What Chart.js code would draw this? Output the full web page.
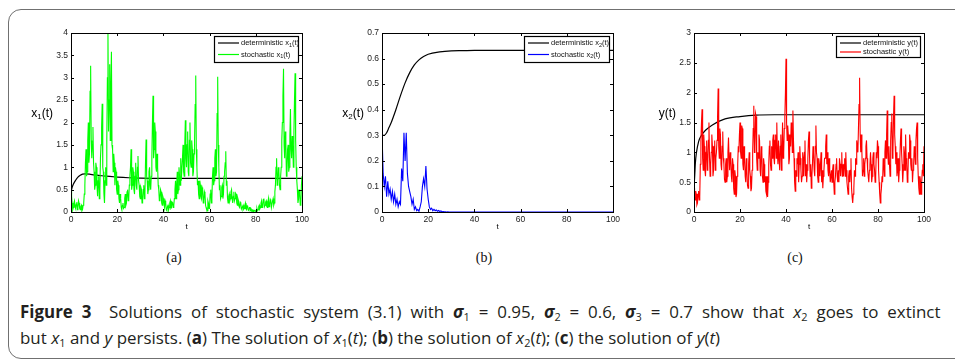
<!DOCTYPE html>
<html><head><meta charset="utf-8">
<script src="https://cdn.jsdelivr.net/npm/chart.js@4.4.0/dist/chart.umd.min.js"></script>
<style>
body{margin:0;width:955px;height:361px;overflow:hidden;background:#fff;position:relative;font-family:"Liberation Sans",Arial,sans-serif}
#frame{position:absolute;left:8px;top:9px;width:990px;height:350px;border:1.5px solid #707070;border-radius:13px;box-sizing:border-box}
.cv{position:absolute;top:20px}
.sub{position:absolute;top:249px;font-family:"Liberation Serif","DejaVu Serif",serif;font-size:14px;line-height:18px;color:#111;transform:translateX(-50%)}
.cap{position:absolute;left:20px;white-space:nowrap;font-family:"Liberation Sans Narrow","Open Sans",sans-serif;font-size:17px;line-height:20px;color:#231f20;transform-origin:0 0}
.cap sub{font-size:11px;vertical-align:-3px;line-height:0}
</style></head><body>
<div id="frame"></div>
<canvas id="ca" class="cv" width="311" height="220" style="left:11px"></canvas>
<canvas id="cb" class="cv" width="311" height="220" style="left:322px"></canvas>
<canvas id="cc" class="cv" width="310" height="220" style="left:634px"></canvas>
<div class="sub" style="left:174px">(a)</div>
<div class="sub" style="left:484px">(b)</div>
<div class="sub" style="left:795px">(c)</div>
<div class="cap" id="cap1" style="top:302px"><b>Figure 3</b>&nbsp; Solutions of stochastic system (3.1) with <b><i>σ</i></b><sub>1</sub> = 0.95, <b><i>σ</i></b><sub>2</sub> = 0.6, <b><i>σ</i></b><sub>3</sub> = 0.7 show that <i>x</i><sub>2</sub> goes to extinct</div>
<div class="cap" id="cap2" style="top:328px">but <i>x</i><sub>1</sub> and <i>y</i> persists. (<b>a</b>) The solution of <i>x</i><sub>1</sub>(<i>t</i>); (<b>b</b>) the solution of <i>x</i><sub>2</sub>(<i>t</i>); (<b>c</b>) the solution of <i>y</i>(<i>t</i>)</div>
<script>
// ---- data ----
const stepX1 = 0.25, stepX2 = 0.5, stepY = 0.25; // sampling steps of the stochastic paths
const x1Stoch = [
0.5,0.35,0.2,0.05,0.1,0.2,0.25,0.12,0.08,0.18, 0.22,0.05,0.1,0.25,0.2,0.08,0.05,0.12,0.15,0.03,
0.06,0.15,0.2,0.4,0.6,1.1,1.4,0.8,0.9,1.6, 2.0,1.1,1.3,2.7,3.27,1.6,1.2,1.5,1.9,1.1,
0.9,0.5,0.6,1.1,1.0,0.6,0.35,0.7,0.8,0.3, 0.5,1.2,1.5,1.9,2.42,1.0,0.9,0.4,0.2,0.7,
1.0,0.6,1.6,3.0,4.0,1.8,2.5,3.3,1.6,2.8, 3.58,1.5,1.4,0.9,1.3,1.1,0.6,1.0,0.9,0.5,
0.4,0.7,0.6,0.3,0.2,0.4,0.3,0.1,0.05,0.15, 0.2,0.08,0.1,0.3,0.4,0.15,0.2,0.45,0.5,0.25,
0.3,0.6,0.8,1.0,1.4,0.5,0.6,1.0,0.9,0.5, 0.4,0.8,1.1,0.6,0.5,1.0,1.25,0.7,0.6,0.35,
0.3,0.55,0.5,0.2,0.25,0.5,0.6,0.3,0.4,1.1, 1.62,0.8,0.7,0.4,0.5,0.9,1.0,0.6,0.5,0.8,
1.2,2.0,2.6,1.2,1.4,2.0,1.8,1.0,0.9,1.3, 1.0,0.6,0.5,0.25,0.3,0.5,0.45,0.2,0.15,0.35,
0.3,0.2,0.1,0.25,0.2,0.05,0.03,0.12,0.15,0.05, 0.1,0.2,0.25,0.08,0.1,0.22,0.2,0.1,0.15,0.3,
0.5,0.7,0.3,0.6,0.9,0.4,0.5,1.0,0.8,0.6, 1.2,0.7,0.7,1.2,1.5,0.9,0.8,1.5,2.05,1.2,
1.0,1.5,1.8,0.9,0.8,1.6,2.0,1.1,1.0,1.6, 1.4,0.8,0.9,1.3,1.6,2.4,3.05,1.4,1.0,0.6,
0.7,0.4,0.3,0.7,0.6,0.35,0.3,0.55,0.5,0.2, 0.25,0.45,0.4,0.15,0.1,0.05,0.03,0.25,0.2,0.08,
0.15,0.4,0.5,0.2,0.3,0.8,1.0,0.6,0.7,1.2, 1.4,0.8,0.9,2.2,3.02,1.5,1.0,0.5,0.6,0.3,
0.35,0.55,0.6,0.3,0.4,0.8,0.9,1.1,1.36,0.6, 0.7,0.3,0.2,0.35,0.4,0.25,0.3,0.45,0.5,0.3,
0.2,0.35,0.45,0.25,0.3,0.42,0.4,0.2,0.15,0.3, 0.25,0.12,0.1,0.22,0.2,0.08,0.05,0.12,0.15,0.06,
0.08,0.15,0.2,0.07,0.05,0.14,0.12,0.04,0.03,0.1, 0.1,0.03,0.02,0.06,0.05,0.01,0.0,0.04,0.03,0.01,
0.01,0.05,0.08,0.03,0.05,0.12,0.15,0.07,0.1,0.2, 0.25,0.1,0.12,0.28,0.3,0.12,0.15,0.22,0.25,0.12,
0.1,0.22,0.3,0.12,0.15,0.28,0.25,0.1,0.1,0.25, 0.3,0.15,0.2,0.45,0.6,1.0,1.2,0.6,0.7,1.0,
0.9,0.6,0.5,0.8,1.0,1.6,2.0,2.6,3.2,1.5, 1.2,1.8,1.6,0.8,0.9,1.4,1.5,0.9,1.0,1.7,
2.3,1.4,1.2,1.7,1.5,1.0,1.8,2.5,3.1,1.6, 1.0,0.7,0.5,0.2,0.3,0.5,0.4,0.15,0.2,0.6,
0.8];
const x2Stoch = [
0.31,0.15,0.1,0.14,0.06,0.12,0.07,0.09,0.05,0.08,
0.04,0.07,0.03,0.05,0.02,0.04,0.03,0.17,0.12,0.31,
0.2,0.31,0.15,0.1,0.08,0.06,0.03,0.05,0.01,0.02,
0.005,0.01,0.003,0.02,0.04,0.1,0.13,0.1,0.18,0.09,
0.05,0.02,0.01,0.015,0.005,0.01,0.005,0.008,0.003,0.006,
0.002,0.004,0.001,0.002,0.001,0.001,0,0.001,0,0,
0,0,0,0,0,0,0,0,0,0, 0,0,0,0,0,0,0,0,0,0,
0,0,0,0,0,0,0,0,0,0, 0,0,0,0,0,0,0,0,0,0,
0,0,0,0,0,0,0,0,0,0, 0,0,0,0,0,0,0,0,0,0,
0,0,0,0,0,0,0,0,0,0, 0,0,0,0,0,0,0,0,0,0,
0,0,0,0,0,0,0,0,0,0, 0,0,0,0,0,0,0,0,0,0,
0,0,0,0,0,0,0,0,0,0, 0,0,0,0,0,0,0,0,0,0,
0,0,0,0,0,0,0,0,0,0, 0,0,0,0,0,0,0,0,0,0,
0];
const yStoch = [
0.4,0.25,0.2,0.35,0.3,0.12,0.15,0.3,0.35,0.2, 0.25,0.8,1.2,1.5,1.72,0.9,0.7,1.3,1.1,0.7,
0.6,1.0,1.2,0.7,0.8,1.2,1.5,0.9,0.6,0.8, 1.0,1.3,1.1,0.6,0.7,1.1,1.2,0.7,0.9,1.0,
1.2,1.6,2.07,1.1,0.9,1.4,1.3,0.8,0.7,1.1, 1.35,0.9,0.8,0.55,0.5,0.8,0.9,0.5,0.6,1.0,
1.25,0.9,0.7,1.0,0.9,0.6,0.5,0.9,0.8,0.4, 0.3,0.7,0.6,0.25,0.3,0.6,0.8,1.1,1.0,1.3,
1.5,1.0,0.9,1.45,1.4,0.8,0.7,1.1,0.9,0.6, 0.5,0.9,0.7,0.45,0.4,0.8,1.0,0.7,0.6,0.35,
0.4,0.7,1.0,1.4,1.78,1.0,1.1,1.65,1.6,0.9, 0.7,1.0,0.9,1.3,1.2,0.7,0.6,1.1,1.0,0.6,
0.5,0.9,0.8,0.5,0.6,0.35,0.3,0.6,0.25,0.5, 0.8,1.1,1.2,0.8,0.7,1.1,0.9,1.2,1.3,0.9,
0.8,1.2,1.3,0.9,1.5,1.0,0.8,1.2,0.9,0.7, 1.1,1.3,0.7,1.0,1.5,0.9,1.0,1.4,1.6,2.0,
2.57,1.5,1.2,1.45,1.3,0.8,0.9,1.3,1.1,1.5, 1.4,1.0,1.7,1.2,0.9,0.5,0.35,0.7,0.6,0.9,
0.8,1.0,0.5,0.8,1.1,0.9,0.7,0.5,0.6,1.0, 0.9,0.6,1.0,1.2,0.6,0.8,0.5,0.7,0.9,1.2,
1.35,0.9,0.6,0.8,0.4,0.6,0.8,1.1,1.0,0.7, 0.6,1.1,1.45,1.0,0.9,0.6,0.5,0.9,0.8,0.6,
0.8,1.0,0.5,0.7,0.4,0.6,0.7,0.9,0.9,1.1, 1.3,0.8,1.0,0.7,0.6,0.9,0.7,0.5,0.5,0.7,
0.5,0.7,0.8,0.5,0.3,0.5,0.6,0.8,0.9,0.6, 0.5,0.7,0.5,0.9,0.8,0.6,0.8,1.0,0.6,0.8,
0.6,0.8,0.9,0.6,1.0,0.7,0.5,0.4,0.3,0.6, 0.7,0.5,0.7,0.9,0.4,0.25,0.15,0.3,0.4,0.7,
0.6,0.9,0.8,1.2,1.1,1.0,1.4,1.8,2.25,1.3, 1.0,1.3,1.0,0.6,0.7,0.9,0.6,0.8,0.9,1.1,
1.2,0.9,0.7,0.6,0.5,0.7,0.8,1.0,0.8,0.5, 0.6,0.9,1.0,0.8,0.7,0.5,0.6,1.0,0.9,1.2,
1.1,0.7,0.5,0.3,0.15,0.3,0.4,0.6,0.5,0.9, 0.8,0.6,1.0,1.2,0.9,1.3,1.7,1.0,0.8,1.1,
0.8,0.6,1.2,1.5,1.65,0.9,1.0,1.6,1.95,1.3, 1.1,0.8,1.0,0.6,0.7,0.9,0.5,0.7,0.9,1.2,
1.4,1.0,0.8,0.5,0.7,1.1,1.0,0.7,1.3,0.9, 0.8,0.5,0.6,1.0,0.9,1.3,1.2,0.8,0.7,0.9,
0.5,0.7,0.8,1.1,1.0,0.8,1.2,1.4,1.5,0.9, 0.6,0.4,0.3,0.6,0.5,0.3,0.5,0.7,0.8,0.6,
1.1];
const x1DetT = [0,0.5,1,2,3,4,5,6,8,10,12,15,20,25,30,40,60,100];
const x1Det  = [0.45,0.55,0.62,0.71,0.78,0.82,0.845,0.85,0.845,0.83,0.82,0.8,0.78,0.765,0.755,0.75,0.75,0.75];
const x2DetT = [0,1,2,3,4,6,8,10,12,14,16,18,20,25,30,35,40,100];
const x2Det  = [0.3,0.3,0.31,0.33,0.35,0.40,0.455,0.505,0.545,0.575,0.595,0.608,0.617,0.626,0.63,0.631,0.632,0.632];
const yDetT = [0,0.3,0.6,1,2,3,5,8,13.5,20,27,35,100];
const yDet  = [0.4,0.6,0.82,0.98,1.18,1.27,1.37,1.46,1.56,1.6,1.625,1.63,1.63];
const xTicks = [0,20,40,60,80,100];
const yTicksA = [0,0.5,1,1.5,2,2.5,3,3.5,4];
const yTicksB = [0,0.1,0.2,0.3,0.4,0.5,0.6,0.7];
const yTicksC = [0,0.5,1,1.5,2,2.5,3];
const legendA = [["deterministic x","1","(t)"],["stochastic x","1","(t)"]];
const legendB = [["deterministic x","2","(t)"],["stochastic x","2","(t)"]];
const legendC = [["deterministic y(t)","",""],["stochastic y(t)","",""]];

// ---- helpers ----
const pairPts = (ts, vs) => vs.map((v, i) => ({x: ts[i], y: v}));
const pathPts = (vs, step) => vs.map((v, i) => ({x: i * step, y: v}));
const TF = '"Liberation Sans", Arial, sans-serif';

function drawSubText(ctx, x, y, parts, big, small, align) {
  ctx.font = big + 'px ' + TF;
  const w0 = ctx.measureText(parts[0]).width;
  const w2 = ctx.measureText(parts[2]).width;
  ctx.font = small + 'px ' + TF;
  const w1 = parts[1] ? ctx.measureText(parts[1]).width : 0;
  let sx = align === 'right' ? x - (w0 + w1 + w2) : x;
  ctx.textAlign = 'left'; ctx.textBaseline = 'middle';
  ctx.font = big + 'px ' + TF; ctx.fillText(parts[0], sx, y);
  ctx.font = small + 'px ' + TF; if (parts[1]) ctx.fillText(parts[1], sx + w0, y + big * 0.3);
  ctx.font = big + 'px ' + TF; ctx.fillText(parts[2], sx + w0 + w1, y);
}

const framePlugin = {
  id: 'matlabFrame',
  afterDraw(chart) {
    const o = chart.options.plugins.matlabFrame;
    const {ctx, chartArea: a, scales: {x, y}} = chart;
    ctx.save();
    ctx.strokeStyle = '#000'; ctx.lineWidth = 1;
    ctx.strokeRect(Math.round(a.left) + 0.5, Math.round(a.top) + 0.5, Math.round(a.right - a.left), Math.round(a.bottom - a.top));
    ctx.beginPath();
    xTicks.forEach(v => {
      const p = Math.round(x.getPixelForValue(v)) + 0.5;
      ctx.moveTo(p, a.bottom); ctx.lineTo(p, a.bottom - 3);
      ctx.moveTo(p, a.top); ctx.lineTo(p, a.top + 3);
    });
    o.yTicks.forEach(v => {
      const p = Math.round(y.getPixelForValue(v)) + 0.5;
      ctx.moveTo(a.left, p); ctx.lineTo(a.left + 3, p);
      ctx.moveTo(a.right, p); ctx.lineTo(a.right - 3, p);
    });
    ctx.stroke();
    // legend
    const lw = o.legW, lh = o.legH;
    const lx = a.right - 4 - lw, ly = a.top + 3;
    ctx.fillStyle = '#fff'; ctx.fillRect(lx, ly, lw, lh);
    ctx.lineWidth = 1.2; ctx.strokeStyle = '#000';
    ctx.strokeRect(lx + 0.5, ly + 0.5, lw, lh);
    const cols = ['#000', o.color];
    o.legend.forEach((parts, i) => {
      const yy = ly + 7 + i * o.legGap;
      ctx.strokeStyle = cols[i]; ctx.lineWidth = 1.2;
      ctx.beginPath(); ctx.moveTo(lx + 4, yy); ctx.lineTo(lx + 25, yy); ctx.stroke();
      ctx.fillStyle = '#111';
      drawSubText(ctx, lx + 27, yy, parts, 7.5, 5.5, 'left');
    });
    // axis titles
    ctx.fillStyle = '#000';
    drawSubText(ctx, a.left - 18, (a.top + a.bottom) / 2 - 9, o.yTitle, 12, 8, 'right');
    ctx.font = '8px ' + TF; ctx.textAlign = 'center'; ctx.textBaseline = 'middle';
    ctx.fillText('t', (a.left + a.right) / 2, a.bottom + 15);
    ctx.restore();
  }
};

function makeChart(id, cfg) {
  new Chart(document.getElementById(id), {
    type: 'line',
    data: {
      datasets: [
        {data: pairPts(cfg.detT, cfg.det), borderColor: '#000', borderWidth: 1.2, pointRadius: 0, cubicInterpolationMode: 'monotone', order: 1},
        {data: pathPts(cfg.stoch, cfg.step), borderColor: cfg.color, borderWidth: 1.1, pointRadius: 0, tension: 0, order: 0}
      ]
    },
    options: {
      responsive: false, animation: false, devicePixelRatio: 1,
      layout: {padding: {left: 30, top: 13, right: 20, bottom: 14}},
      plugins: {legend: {display: false}, tooltip: {enabled: false},
        matlabFrame: {yTicks: cfg.yTicks, legend: cfg.legend, color: cfg.color, yTitle: cfg.yTitle, legW: cfg.legW, legH: cfg.legH, legGap: cfg.legGap}},
      scales: {
        x: {type: 'linear', min: 0, max: 100,
          afterBuildTicks: s => { s.ticks = xTicks.map(v => ({value: v})); },
          afterFit: s => { s.height = 14; },
          grid: {display: false, drawTicks: false}, border: {display: false},
          ticks: {padding: 3, color: '#222', font: {size: 8.5, family: TF}, maxRotation: 0, autoSkip: false, callback: v => String(v)}},
        y: {type: 'linear', min: 0, max: cfg.yTicks[cfg.yTicks.length - 1],
          afterBuildTicks: s => { s.ticks = cfg.yTicks.map(v => ({value: v})); },
          afterFit: s => { s.width = 30; },
          grid: {display: false, drawTicks: false}, border: {display: false},
          ticks: {padding: 3, color: '#222', font: {size: 8.5, family: TF}, autoSkip: false, callback: v => String(v)}}
      }
    },
    plugins: [framePlugin]
  });
}

makeChart('ca', {detT: x1DetT, det: x1Det, stoch: x1Stoch, step: stepX1, color: '#00ff00', yTicks: yTicksA, legend: legendA, yTitle: ['x', '1', '(t)'], legW: 84, legH: 26, legGap: 11.5});
makeChart('cb', {detT: x2DetT, det: x2Det, stoch: x2Stoch, step: stepX2, color: '#0000ff', yTicks: yTicksB, legend: legendB, yTitle: ['x', '2', '(t)'], legW: 85, legH: 26, legGap: 11.5});
makeChart('cc', {detT: yDetT, det: yDet, stoch: yStoch, step: stepY, color: '#ff0000', yTicks: yTicksC, legend: legendC, yTitle: ['y(t)', '', ''], legW: 84, legH: 21, legGap: 9});

// caption: last line sets the condensing, first line is justified to full width
const c1 = document.getElementById('cap1'), c2 = document.getElementById('cap2');
const k = 700 / c2.getBoundingClientRect().width;
c1.style.transform = c2.style.transform = 'scaleX(' + k + ')';
const w1 = c1.getBoundingClientRect().width;
const nSpaces = (c1.textContent.match(/ /g) || []).length;
c1.style.wordSpacing = Math.max(0, (916 - w1) / k / nSpaces) + 'px';
</script>
</body></html>
